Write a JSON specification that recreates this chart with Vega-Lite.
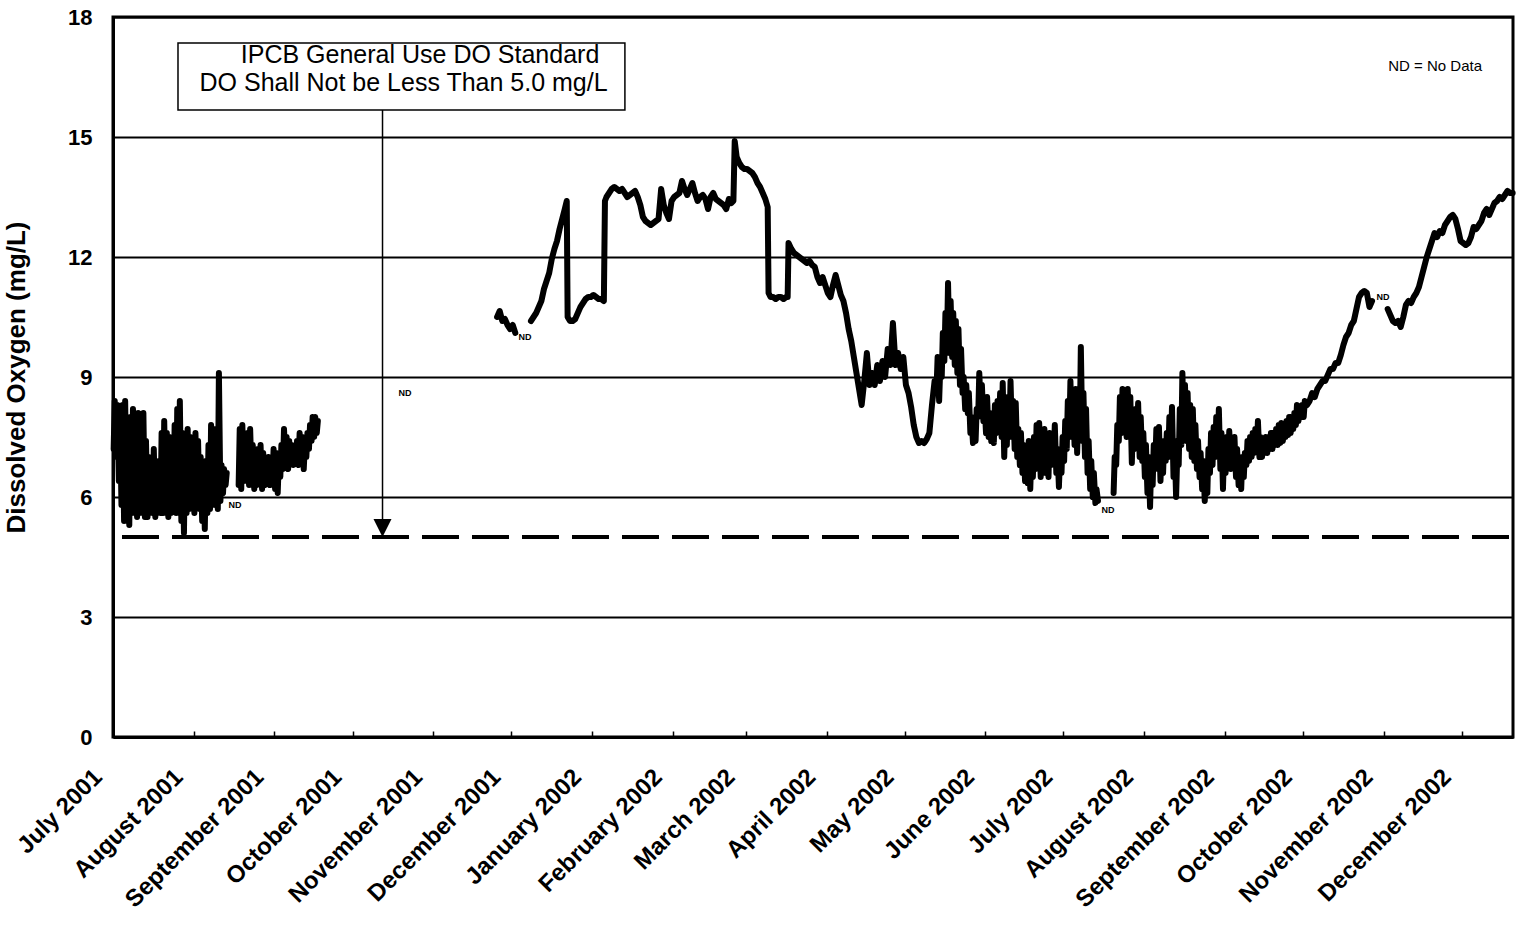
{
"$schema":"https://vega.github.io/schema/vega-lite/v6.json",
"width":1400,"height":720,
"autosize":{"type":"none"},
"padding":{"left":113,"top":17,"right":6,"bottom":195},
"background":"white",
"config":{"view":{"stroke":"black","strokeWidth":3},"font":"Liberation Sans"},
"datasets":{
"do":[
{"t":"2001-07-01T06:00","v":7.2,"s":1},{"t":"2001-07-01T16:00","v":8.4,"s":1},
{"t":"2001-07-02T06:00","v":7.0,"s":1},{"t":"2001-07-02T16:00","v":8.3,"s":1},
{"t":"2001-07-03T06:00","v":6.4,"s":1},{"t":"2001-07-03T16:00","v":8.2,"s":1},
{"t":"2001-07-04T06:00","v":5.8,"s":1},{"t":"2001-07-04T16:00","v":8.3,"s":1},
{"t":"2001-07-05T06:00","v":5.4,"s":1},{"t":"2001-07-05T16:00","v":8.4,"s":1},
{"t":"2001-07-06T06:00","v":5.7,"s":1},{"t":"2001-07-06T16:00","v":7.6,"s":1},
{"t":"2001-07-07T06:00","v":5.3,"s":1},{"t":"2001-07-07T16:00","v":8.0,"s":1},
{"t":"2001-07-08T06:00","v":5.6,"s":1},{"t":"2001-07-08T16:00","v":8.2,"s":1},
{"t":"2001-07-09T06:00","v":5.9,"s":1},{"t":"2001-07-09T16:00","v":7.8,"s":1},
{"t":"2001-07-10T06:00","v":5.5,"s":1},{"t":"2001-07-10T16:00","v":8.1,"s":1},
{"t":"2001-07-11T06:00","v":5.6,"s":1},{"t":"2001-07-11T16:00","v":7.9,"s":1},
{"t":"2001-07-12T06:00","v":5.7,"s":1},{"t":"2001-07-12T16:00","v":8.1,"s":1},
{"t":"2001-07-13T06:00","v":5.5,"s":1},{"t":"2001-07-13T16:00","v":7.4,"s":1},
{"t":"2001-07-14T06:00","v":5.5,"s":1},{"t":"2001-07-14T16:00","v":7.0,"s":1},
{"t":"2001-07-15T06:00","v":5.7,"s":1},{"t":"2001-07-15T16:00","v":6.8,"s":1},
{"t":"2001-07-16T06:00","v":5.6,"s":1},{"t":"2001-07-16T16:00","v":7.2,"s":1},
{"t":"2001-07-17T06:00","v":5.5,"s":1},{"t":"2001-07-17T16:00","v":6.6,"s":1},
{"t":"2001-07-18T06:00","v":5.7,"s":1},{"t":"2001-07-18T16:00","v":6.9,"s":1},
{"t":"2001-07-19T06:00","v":5.6,"s":1},{"t":"2001-07-19T16:00","v":7.6,"s":1},
{"t":"2001-07-20T06:00","v":5.6,"s":1},{"t":"2001-07-20T16:00","v":7.9,"s":1},
{"t":"2001-07-21T06:00","v":5.7,"s":1},{"t":"2001-07-21T16:00","v":7.6,"s":1},
{"t":"2001-07-22T06:00","v":5.5,"s":1},{"t":"2001-07-22T16:00","v":7.5,"s":1},
{"t":"2001-07-23T06:00","v":5.6,"s":1},{"t":"2001-07-23T16:00","v":7.3,"s":1},
{"t":"2001-07-24T06:00","v":5.7,"s":1},{"t":"2001-07-24T16:00","v":7.8,"s":1},
{"t":"2001-07-25T06:00","v":5.6,"s":1},{"t":"2001-07-25T16:00","v":8.2,"s":1},
{"t":"2001-07-26T06:00","v":5.8,"s":1},{"t":"2001-07-26T16:00","v":8.4,"s":1},
{"t":"2001-07-27T06:00","v":5.4,"s":1},{"t":"2001-07-27T16:00","v":7.6,"s":1},
{"t":"2001-07-28T06:00","v":5.1,"s":1},{"t":"2001-07-28T16:00","v":7.3,"s":1},
{"t":"2001-07-29T06:00","v":5.6,"s":1},{"t":"2001-07-29T16:00","v":7.7,"s":1},
{"t":"2001-07-30T06:00","v":5.7,"s":1},{"t":"2001-07-30T16:00","v":7.5,"s":1},
{"t":"2001-07-31T06:00","v":5.8,"s":1},{"t":"2001-07-31T16:00","v":7.0,"s":1},
{"t":"2001-08-01T06:00","v":5.6,"s":1},{"t":"2001-08-01T16:00","v":7.6,"s":1},
{"t":"2001-08-02T06:00","v":5.9,"s":1},{"t":"2001-08-02T16:00","v":7.4,"s":1},
{"t":"2001-08-03T06:00","v":5.7,"s":1},{"t":"2001-08-03T16:00","v":7.0,"s":1},
{"t":"2001-08-04T06:00","v":5.4,"s":1},{"t":"2001-08-04T16:00","v":6.8,"s":1},
{"t":"2001-08-05T06:00","v":5.2,"s":1},{"t":"2001-08-05T16:00","v":6.9,"s":1},
{"t":"2001-08-06T06:00","v":5.6,"s":1},{"t":"2001-08-06T16:00","v":7.3,"s":1},
{"t":"2001-08-07T06:00","v":5.7,"s":1},{"t":"2001-08-07T16:00","v":7.8,"s":1},
{"t":"2001-08-08T06:00","v":6.1,"s":1},{"t":"2001-08-08T16:00","v":7.7,"s":1},
{"t":"2001-08-09T06:00","v":5.8,"s":1},{"t":"2001-08-09T16:00","v":7.6,"s":1},
{"t":"2001-08-10T06:00","v":5.7,"s":1},{"t":"2001-08-10T16:00","v":9.1,"s":1},
{"t":"2001-08-11T06:00","v":5.9,"s":1},{"t":"2001-08-11T16:00","v":6.8,"s":1},
{"t":"2001-08-12T06:00","v":6.1,"s":1},{"t":"2001-08-12T16:00","v":6.7,"s":1},
{"t":"2001-08-13T06:00","v":6.3,"s":1},{"t":"2001-08-13T16:00","v":6.6,"s":1},
{"t":"2001-08-18T06:00","v":6.3,"s":2},{"t":"2001-08-18T16:00","v":7.7,"s":2},
{"t":"2001-08-19T06:00","v":6.2,"s":2},{"t":"2001-08-19T16:00","v":7.8,"s":2},
{"t":"2001-08-20T06:00","v":6.4,"s":2},{"t":"2001-08-20T16:00","v":7.1,"s":2},
{"t":"2001-08-21T06:00","v":6.5,"s":2},{"t":"2001-08-21T16:00","v":7.6,"s":2},
{"t":"2001-08-22T06:00","v":6.3,"s":2},{"t":"2001-08-22T16:00","v":7.7,"s":2},
{"t":"2001-08-23T06:00","v":6.4,"s":2},{"t":"2001-08-23T16:00","v":7.3,"s":2},
{"t":"2001-08-24T06:00","v":6.2,"s":2},{"t":"2001-08-24T16:00","v":7.0,"s":2},
{"t":"2001-08-25T06:00","v":6.3,"s":2},{"t":"2001-08-25T16:00","v":7.2,"s":2},
{"t":"2001-08-26T06:00","v":6.4,"s":2},{"t":"2001-08-26T16:00","v":7.3,"s":2},
{"t":"2001-08-27T06:00","v":6.2,"s":2},{"t":"2001-08-27T16:00","v":7.1,"s":2},
{"t":"2001-08-28T06:00","v":6.3,"s":2},{"t":"2001-08-28T16:00","v":6.9,"s":2},
{"t":"2001-08-29T06:00","v":6.5,"s":2},{"t":"2001-08-29T16:00","v":7.0,"s":2},
{"t":"2001-08-30T06:00","v":6.3,"s":2},{"t":"2001-08-30T16:00","v":6.9,"s":2},
{"t":"2001-08-31T06:00","v":6.4,"s":2},{"t":"2001-08-31T16:00","v":7.2,"s":2},
{"t":"2001-09-01T06:00","v":6.2,"s":2},{"t":"2001-09-01T16:00","v":7.1,"s":2},
{"t":"2001-09-02T06:00","v":6.1,"s":2},{"t":"2001-09-02T16:00","v":6.9,"s":2},
{"t":"2001-09-03T06:00","v":6.5,"s":2},{"t":"2001-09-03T16:00","v":7.3,"s":2},
{"t":"2001-09-04T06:00","v":6.7,"s":2},{"t":"2001-09-04T16:00","v":7.7,"s":2},
{"t":"2001-09-05T06:00","v":6.8,"s":2},{"t":"2001-09-05T16:00","v":7.5,"s":2},
{"t":"2001-09-06T06:00","v":6.7,"s":2},{"t":"2001-09-06T16:00","v":7.4,"s":2},
{"t":"2001-09-07T06:00","v":6.9,"s":2},{"t":"2001-09-07T16:00","v":7.3,"s":2},
{"t":"2001-09-08T06:00","v":6.8,"s":2},{"t":"2001-09-08T16:00","v":7.2,"s":2},
{"t":"2001-09-09T06:00","v":6.9,"s":2},{"t":"2001-09-09T16:00","v":7.4,"s":2},
{"t":"2001-09-10T06:00","v":6.8,"s":2},{"t":"2001-09-10T16:00","v":7.6,"s":2},
{"t":"2001-09-11T06:00","v":6.9,"s":2},{"t":"2001-09-11T16:00","v":7.5,"s":2},
{"t":"2001-09-12T06:00","v":6.7,"s":2},{"t":"2001-09-12T16:00","v":7.3,"s":2},
{"t":"2001-09-13T06:00","v":7.0,"s":2},{"t":"2001-09-13T16:00","v":7.6,"s":2},
{"t":"2001-09-14T06:00","v":7.2,"s":2},{"t":"2001-09-14T16:00","v":7.8,"s":2},
{"t":"2001-09-15T06:00","v":7.4,"s":2},{"t":"2001-09-15T16:00","v":8.0,"s":2},
{"t":"2001-09-16T06:00","v":7.5,"s":2},{"t":"2001-09-16T16:00","v":8.0,"s":2},
{"t":"2001-09-17T06:00","v":7.6,"s":2},{"t":"2001-09-17T16:00","v":7.9,"s":2},
{"t":"2001-11-25T12:00","v":10.5,"s":3},{"t":"2001-11-26T12:00","v":10.65,"s":3},
{"t":"2001-11-27T12:00","v":10.4,"s":3},{"t":"2001-11-28T12:00","v":10.45,"s":3},
{"t":"2001-11-29T12:00","v":10.3,"s":3},{"t":"2001-11-30T12:00","v":10.2,"s":3},
{"t":"2001-12-01T12:00","v":10.3,"s":3},{"t":"2001-12-02T12:00","v":10.1,"s":3},
{"t":"2001-12-08T12:00","v":10.4,"s":4},{"t":"2001-12-09T12:00","v":10.5,"s":4},
{"t":"2001-12-10T12:00","v":10.6,"s":4},{"t":"2001-12-11T12:00","v":10.75,"s":4},
{"t":"2001-12-12T12:00","v":10.9,"s":4},{"t":"2001-12-13T12:00","v":11.2,"s":4},
{"t":"2001-12-14T12:00","v":11.4,"s":4},{"t":"2001-12-15T12:00","v":11.6,"s":4},
{"t":"2001-12-16T12:00","v":11.95,"s":4},{"t":"2001-12-17T12:00","v":12.2,"s":4},
{"t":"2001-12-18T12:00","v":12.4,"s":4},{"t":"2001-12-19T12:00","v":12.7,"s":4},
{"t":"2001-12-20T12:00","v":12.95,"s":4},{"t":"2001-12-21T12:00","v":13.2,"s":4},
{"t":"2001-12-22T06:00","v":13.4,"s":4},{"t":"2001-12-22T14:00","v":10.5,"s":4},
{"t":"2001-12-23T12:00","v":10.4,"s":4},{"t":"2001-12-24T12:00","v":10.4,"s":4},
{"t":"2001-12-25T12:00","v":10.45,"s":4},{"t":"2001-12-26T12:00","v":10.6,"s":4},
{"t":"2001-12-27T12:00","v":10.75,"s":4},{"t":"2001-12-28T12:00","v":10.85,"s":4},
{"t":"2001-12-29T12:00","v":10.95,"s":4},{"t":"2001-12-30T12:00","v":11.0,"s":4},
{"t":"2001-12-31T12:00","v":11.0,"s":4},{"t":"2002-01-01T12:00","v":11.05,"s":4},
{"t":"2002-01-02T12:00","v":11.0,"s":4},{"t":"2002-01-03T12:00","v":10.95,"s":4},
{"t":"2002-01-04T12:00","v":10.95,"s":4},{"t":"2002-01-05T12:00","v":10.9,"s":4},
{"t":"2002-01-05T22:00","v":13.4,"s":4},{"t":"2002-01-06T12:00","v":13.5,"s":4},
{"t":"2002-01-07T12:00","v":13.6,"s":4},{"t":"2002-01-08T12:00","v":13.7,"s":4},
{"t":"2002-01-09T12:00","v":13.75,"s":4},{"t":"2002-01-10T12:00","v":13.7,"s":4},
{"t":"2002-01-11T12:00","v":13.65,"s":4},{"t":"2002-01-12T12:00","v":13.7,"s":4},
{"t":"2002-01-13T12:00","v":13.6,"s":4},{"t":"2002-01-14T12:00","v":13.5,"s":4},
{"t":"2002-01-15T12:00","v":13.55,"s":4},{"t":"2002-01-16T12:00","v":13.6,"s":4},
{"t":"2002-01-17T12:00","v":13.65,"s":4},{"t":"2002-01-18T12:00","v":13.5,"s":4},
{"t":"2002-01-19T12:00","v":13.3,"s":4},{"t":"2002-01-20T12:00","v":13.0,"s":4},
{"t":"2002-01-21T12:00","v":12.9,"s":4},{"t":"2002-01-22T12:00","v":12.85,"s":4},
{"t":"2002-01-23T12:00","v":12.8,"s":4},{"t":"2002-01-24T12:00","v":12.85,"s":4},
{"t":"2002-01-25T12:00","v":12.9,"s":4},{"t":"2002-01-26T12:00","v":12.95,"s":4},
{"t":"2002-01-27T12:00","v":13.7,"s":4},{"t":"2002-01-28T12:00","v":13.3,"s":4},
{"t":"2002-01-29T12:00","v":13.1,"s":4},{"t":"2002-01-30T12:00","v":12.95,"s":4},
{"t":"2002-01-31T12:00","v":13.4,"s":4},{"t":"2002-02-01T12:00","v":13.5,"s":4},
{"t":"2002-02-02T12:00","v":13.55,"s":4},{"t":"2002-02-03T12:00","v":13.6,"s":4},
{"t":"2002-02-04T12:00","v":13.9,"s":4},{"t":"2002-02-05T12:00","v":13.7,"s":4},
{"t":"2002-02-06T12:00","v":13.55,"s":4},{"t":"2002-02-07T12:00","v":13.7,"s":4},
{"t":"2002-02-08T12:00","v":13.85,"s":4},{"t":"2002-02-09T12:00","v":13.6,"s":4},
{"t":"2002-02-10T12:00","v":13.4,"s":4},{"t":"2002-02-11T12:00","v":13.5,"s":4},
{"t":"2002-02-12T12:00","v":13.55,"s":4},{"t":"2002-02-13T12:00","v":13.45,"s":4},
{"t":"2002-02-14T12:00","v":13.2,"s":4},{"t":"2002-02-15T12:00","v":13.5,"s":4},
{"t":"2002-02-16T12:00","v":13.6,"s":4},{"t":"2002-02-17T12:00","v":13.45,"s":4},
{"t":"2002-02-18T12:00","v":13.4,"s":4},{"t":"2002-02-19T12:00","v":13.35,"s":4},
{"t":"2002-02-20T12:00","v":13.3,"s":4},{"t":"2002-02-21T12:00","v":13.2,"s":4},
{"t":"2002-02-22T12:00","v":13.45,"s":4},{"t":"2002-02-23T12:00","v":13.35,"s":4},
{"t":"2002-02-24T06:00","v":13.4,"s":4},{"t":"2002-02-24T18:00","v":14.9,"s":4},
{"t":"2002-02-25T12:00","v":14.5,"s":4},{"t":"2002-02-26T12:00","v":14.35,"s":4},
{"t":"2002-02-27T12:00","v":14.25,"s":4},{"t":"2002-02-28T12:00","v":14.2,"s":4},
{"t":"2002-03-01T12:00","v":14.2,"s":4},{"t":"2002-03-02T12:00","v":14.15,"s":4},
{"t":"2002-03-03T12:00","v":14.1,"s":4},{"t":"2002-03-04T12:00","v":14.0,"s":4},
{"t":"2002-03-05T12:00","v":13.85,"s":4},{"t":"2002-03-06T12:00","v":13.75,"s":4},
{"t":"2002-03-07T12:00","v":13.6,"s":4},{"t":"2002-03-08T12:00","v":13.45,"s":4},
{"t":"2002-03-09T10:00","v":13.25,"s":4},{"t":"2002-03-09T18:00","v":11.1,"s":4},
{"t":"2002-03-10T12:00","v":11.0,"s":4},{"t":"2002-03-11T12:00","v":11.0,"s":4},
{"t":"2002-03-12T12:00","v":10.95,"s":4},{"t":"2002-03-13T12:00","v":11.0,"s":4},
{"t":"2002-03-14T12:00","v":11.0,"s":4},{"t":"2002-03-15T12:00","v":10.95,"s":4},
{"t":"2002-03-16T12:00","v":11.0,"s":4},{"t":"2002-03-17T02:00","v":11.0,"s":4},
{"t":"2002-03-17T10:00","v":12.35,"s":4},{"t":"2002-03-18T12:00","v":12.2,"s":4},
{"t":"2002-03-19T12:00","v":12.1,"s":4},{"t":"2002-03-20T12:00","v":12.05,"s":4},
{"t":"2002-03-21T12:00","v":12.0,"s":4},{"t":"2002-03-22T12:00","v":11.95,"s":4},
{"t":"2002-03-23T12:00","v":11.9,"s":4},{"t":"2002-03-24T12:00","v":11.85,"s":4},
{"t":"2002-03-25T12:00","v":11.9,"s":4},{"t":"2002-03-26T12:00","v":11.8,"s":4},
{"t":"2002-03-27T12:00","v":11.75,"s":4},{"t":"2002-03-28T12:00","v":11.5,"s":4},
{"t":"2002-03-29T12:00","v":11.35,"s":4},{"t":"2002-03-30T12:00","v":11.5,"s":4},
{"t":"2002-03-31T12:00","v":11.3,"s":4},{"t":"2002-04-01T12:00","v":11.1,"s":4},
{"t":"2002-04-02T12:00","v":11.0,"s":4},{"t":"2002-04-03T12:00","v":11.3,"s":4},
{"t":"2002-04-04T12:00","v":11.55,"s":4},{"t":"2002-04-05T12:00","v":11.3,"s":4},
{"t":"2002-04-06T12:00","v":11.05,"s":4},{"t":"2002-04-07T12:00","v":10.9,"s":4},
{"t":"2002-04-08T12:00","v":10.6,"s":4},{"t":"2002-04-09T12:00","v":10.2,"s":4},
{"t":"2002-04-10T12:00","v":9.9,"s":4},{"t":"2002-04-11T12:00","v":9.5,"s":4},
{"t":"2002-04-12T12:00","v":9.1,"s":4},{"t":"2002-04-13T12:00","v":8.7,"s":4},
{"t":"2002-04-14T12:00","v":8.3,"s":4},{"t":"2002-04-15T12:00","v":8.9,"s":4},
{"t":"2002-04-16T12:00","v":9.6,"s":4},{"t":"2002-04-17T12:00","v":8.8,"s":4},
{"t":"2002-04-18T12:00","v":9.1,"s":4},{"t":"2002-04-19T12:00","v":8.8,"s":4},
{"t":"2002-04-20T12:00","v":9.3,"s":4},{"t":"2002-04-21T12:00","v":8.9,"s":4},
{"t":"2002-04-22T12:00","v":9.4,"s":4},{"t":"2002-04-23T12:00","v":9.0,"s":4},
{"t":"2002-04-24T12:00","v":9.7,"s":4},{"t":"2002-04-25T12:00","v":9.3,"s":4},
{"t":"2002-04-26T12:00","v":10.35,"s":4},{"t":"2002-04-27T12:00","v":9.3,"s":4},
{"t":"2002-04-28T12:00","v":9.6,"s":4},{"t":"2002-04-29T12:00","v":9.2,"s":4},
{"t":"2002-04-30T12:00","v":9.5,"s":4},{"t":"2002-05-01T12:00","v":8.8,"s":4},
{"t":"2002-05-02T12:00","v":8.6,"s":4},{"t":"2002-05-03T12:00","v":8.25,"s":4},
{"t":"2002-05-04T12:00","v":7.8,"s":4},{"t":"2002-05-05T12:00","v":7.5,"s":4},
{"t":"2002-05-06T12:00","v":7.35,"s":4},{"t":"2002-05-07T12:00","v":7.4,"s":4},
{"t":"2002-05-08T12:00","v":7.35,"s":4},{"t":"2002-05-09T12:00","v":7.45,"s":4},
{"t":"2002-05-10T12:00","v":7.6,"s":4},{"t":"2002-05-11T12:00","v":8.3,"s":4},
{"t":"2002-05-12T12:00","v":8.9,"s":4},
{"t":"2002-05-13T06:00","v":8.7,"s":4},{"t":"2002-05-13T16:00","v":9.5,"s":4},
{"t":"2002-05-14T06:00","v":8.4,"s":4},{"t":"2002-05-14T16:00","v":9.2,"s":4},
{"t":"2002-05-15T06:00","v":9.0,"s":4},{"t":"2002-05-15T16:00","v":10.1,"s":4},
{"t":"2002-05-16T06:00","v":9.4,"s":4},{"t":"2002-05-16T16:00","v":10.6,"s":4},
{"t":"2002-05-17T06:00","v":9.8,"s":4},{"t":"2002-05-17T16:00","v":11.35,"s":4},
{"t":"2002-05-18T06:00","v":9.6,"s":4},{"t":"2002-05-18T16:00","v":10.9,"s":4},
{"t":"2002-05-19T06:00","v":9.5,"s":4},{"t":"2002-05-19T16:00","v":10.6,"s":4},
{"t":"2002-05-20T06:00","v":9.3,"s":4},{"t":"2002-05-20T16:00","v":10.4,"s":4},
{"t":"2002-05-21T06:00","v":9.1,"s":4},{"t":"2002-05-21T16:00","v":10.2,"s":4},
{"t":"2002-05-22T06:00","v":8.8,"s":4},{"t":"2002-05-22T16:00","v":9.7,"s":4},
{"t":"2002-05-23T06:00","v":8.6,"s":4},{"t":"2002-05-23T16:00","v":9.0,"s":4},
{"t":"2002-05-24T06:00","v":8.2,"s":4},{"t":"2002-05-24T16:00","v":8.8,"s":4},
{"t":"2002-05-25T06:00","v":8.1,"s":4},{"t":"2002-05-25T16:00","v":8.6,"s":4},
{"t":"2002-05-26T06:00","v":7.6,"s":4},{"t":"2002-05-26T16:00","v":8.0,"s":4},
{"t":"2002-05-27T06:00","v":7.35,"s":4},{"t":"2002-05-27T16:00","v":7.6,"s":4},
{"t":"2002-05-28T06:00","v":7.4,"s":4},{"t":"2002-05-28T16:00","v":8.2,"s":4},
{"t":"2002-05-29T06:00","v":8.0,"s":4},{"t":"2002-05-29T16:00","v":9.1,"s":4},
{"t":"2002-05-30T06:00","v":8.2,"s":4},{"t":"2002-05-30T16:00","v":8.8,"s":4},
{"t":"2002-05-31T06:00","v":7.9,"s":4},{"t":"2002-05-31T16:00","v":8.4,"s":4},
{"t":"2002-06-01T06:00","v":7.6,"s":4},{"t":"2002-06-01T16:00","v":8.5,"s":4},
{"t":"2002-06-02T06:00","v":7.5,"s":4},{"t":"2002-06-02T16:00","v":8.1,"s":4},
{"t":"2002-06-03T06:00","v":7.4,"s":4},{"t":"2002-06-03T16:00","v":8.0,"s":4},
{"t":"2002-06-04T06:00","v":7.35,"s":4},{"t":"2002-06-04T16:00","v":8.3,"s":4},
{"t":"2002-06-05T06:00","v":7.6,"s":4},{"t":"2002-06-05T16:00","v":8.4,"s":4},
{"t":"2002-06-06T06:00","v":7.7,"s":4},{"t":"2002-06-06T16:00","v":8.6,"s":4},
{"t":"2002-06-07T06:00","v":7.5,"s":4},{"t":"2002-06-07T16:00","v":8.85,"s":4},
{"t":"2002-06-08T06:00","v":7.0,"s":4},{"t":"2002-06-08T16:00","v":8.0,"s":4},
{"t":"2002-06-09T06:00","v":7.3,"s":4},{"t":"2002-06-09T16:00","v":8.5,"s":4},
{"t":"2002-06-10T06:00","v":7.6,"s":4},{"t":"2002-06-10T16:00","v":8.9,"s":4},
{"t":"2002-06-11T06:00","v":7.5,"s":4},{"t":"2002-06-11T16:00","v":8.4,"s":4},
{"t":"2002-06-12T06:00","v":7.2,"s":4},{"t":"2002-06-12T16:00","v":8.35,"s":4},
{"t":"2002-06-13T06:00","v":7.0,"s":4},{"t":"2002-06-13T16:00","v":7.7,"s":4},
{"t":"2002-06-14T06:00","v":6.8,"s":4},{"t":"2002-06-14T16:00","v":7.6,"s":4},
{"t":"2002-06-15T06:00","v":6.6,"s":4},{"t":"2002-06-15T16:00","v":7.3,"s":4},
{"t":"2002-06-16T06:00","v":6.4,"s":4},{"t":"2002-06-16T16:00","v":7.2,"s":4},
{"t":"2002-06-17T06:00","v":6.35,"s":4},{"t":"2002-06-17T16:00","v":7.4,"s":4},
{"t":"2002-06-18T06:00","v":6.2,"s":4},{"t":"2002-06-18T16:00","v":7.1,"s":4},
{"t":"2002-06-19T06:00","v":6.5,"s":4},{"t":"2002-06-19T16:00","v":7.5,"s":4},
{"t":"2002-06-20T06:00","v":6.7,"s":4},{"t":"2002-06-20T16:00","v":7.8,"s":4},
{"t":"2002-06-21T06:00","v":6.9,"s":4},{"t":"2002-06-21T16:00","v":7.85,"s":4},
{"t":"2002-06-22T06:00","v":6.5,"s":4},{"t":"2002-06-22T16:00","v":7.3,"s":4},
{"t":"2002-06-23T06:00","v":6.7,"s":4},{"t":"2002-06-23T16:00","v":7.7,"s":4},
{"t":"2002-06-24T06:00","v":6.6,"s":4},{"t":"2002-06-24T16:00","v":7.5,"s":4},
{"t":"2002-06-25T06:00","v":6.5,"s":4},{"t":"2002-06-25T16:00","v":7.6,"s":4},
{"t":"2002-06-26T06:00","v":6.8,"s":4},{"t":"2002-06-26T16:00","v":7.5,"s":4},
{"t":"2002-06-27T06:00","v":6.9,"s":4},{"t":"2002-06-27T16:00","v":7.8,"s":4},
{"t":"2002-06-28T06:00","v":6.6,"s":4},{"t":"2002-06-28T16:00","v":7.2,"s":4},
{"t":"2002-06-29T06:00","v":6.25,"s":4},{"t":"2002-06-29T16:00","v":7.0,"s":4},
{"t":"2002-06-30T06:00","v":6.6,"s":4},{"t":"2002-06-30T16:00","v":7.5,"s":4},
{"t":"2002-07-01T06:00","v":6.9,"s":4},{"t":"2002-07-01T16:00","v":7.9,"s":4},
{"t":"2002-07-02T06:00","v":7.2,"s":4},{"t":"2002-07-02T16:00","v":8.4,"s":4},
{"t":"2002-07-03T06:00","v":7.6,"s":4},{"t":"2002-07-03T16:00","v":8.9,"s":4},
{"t":"2002-07-04T06:00","v":7.5,"s":4},{"t":"2002-07-04T16:00","v":8.6,"s":4},
{"t":"2002-07-05T06:00","v":7.3,"s":4},{"t":"2002-07-05T16:00","v":8.7,"s":4},
{"t":"2002-07-06T06:00","v":7.1,"s":4},{"t":"2002-07-06T16:00","v":8.2,"s":4},
{"t":"2002-07-07T06:00","v":7.6,"s":4},{"t":"2002-07-07T16:00","v":9.75,"s":4},
{"t":"2002-07-08T06:00","v":7.4,"s":4},{"t":"2002-07-08T16:00","v":8.6,"s":4},
{"t":"2002-07-09T06:00","v":7.0,"s":4},{"t":"2002-07-09T16:00","v":8.2,"s":4},
{"t":"2002-07-10T06:00","v":6.6,"s":4},{"t":"2002-07-10T16:00","v":7.4,"s":4},
{"t":"2002-07-11T06:00","v":6.2,"s":4},{"t":"2002-07-11T16:00","v":6.9,"s":4},
{"t":"2002-07-12T06:00","v":6.0,"s":4},{"t":"2002-07-12T16:00","v":6.6,"s":4},
{"t":"2002-07-13T06:00","v":5.85,"s":4},{"t":"2002-07-13T16:00","v":6.2,"s":4},
{"t":"2002-07-14T06:00","v":5.9,"s":4},
{"t":"2002-07-20T06:00","v":6.1,"s":5},{"t":"2002-07-20T16:00","v":7.0,"s":5},
{"t":"2002-07-21T06:00","v":6.8,"s":5},{"t":"2002-07-21T16:00","v":7.8,"s":5},
{"t":"2002-07-22T06:00","v":7.4,"s":5},{"t":"2002-07-22T16:00","v":8.5,"s":5},
{"t":"2002-07-23T06:00","v":7.6,"s":5},{"t":"2002-07-23T16:00","v":8.7,"s":5},
{"t":"2002-07-24T06:00","v":7.8,"s":5},{"t":"2002-07-24T16:00","v":8.6,"s":5},
{"t":"2002-07-25T06:00","v":7.5,"s":5},{"t":"2002-07-25T16:00","v":8.7,"s":5},
{"t":"2002-07-26T06:00","v":7.6,"s":5},{"t":"2002-07-26T16:00","v":8.5,"s":5},
{"t":"2002-07-27T06:00","v":6.85,"s":5},{"t":"2002-07-27T16:00","v":7.9,"s":5},
{"t":"2002-07-28T06:00","v":7.2,"s":5},{"t":"2002-07-28T16:00","v":8.2,"s":5},
{"t":"2002-07-29T06:00","v":7.4,"s":5},{"t":"2002-07-29T16:00","v":8.35,"s":5},
{"t":"2002-07-30T06:00","v":7.0,"s":5},{"t":"2002-07-30T16:00","v":8.0,"s":5},
{"t":"2002-07-31T06:00","v":6.9,"s":5},{"t":"2002-07-31T16:00","v":7.6,"s":5},
{"t":"2002-08-01T06:00","v":6.5,"s":5},{"t":"2002-08-01T16:00","v":7.3,"s":5},
{"t":"2002-08-02T06:00","v":6.1,"s":5},{"t":"2002-08-02T16:00","v":7.0,"s":5},
{"t":"2002-08-03T06:00","v":5.75,"s":5},{"t":"2002-08-03T16:00","v":6.8,"s":5},
{"t":"2002-08-04T06:00","v":6.3,"s":5},{"t":"2002-08-04T16:00","v":7.3,"s":5},
{"t":"2002-08-05T06:00","v":6.8,"s":5},{"t":"2002-08-05T16:00","v":7.7,"s":5},
{"t":"2002-08-06T06:00","v":6.7,"s":5},{"t":"2002-08-06T16:00","v":7.75,"s":5},
{"t":"2002-08-07T06:00","v":6.4,"s":5},{"t":"2002-08-07T16:00","v":7.1,"s":5},
{"t":"2002-08-08T06:00","v":6.6,"s":5},{"t":"2002-08-08T16:00","v":7.4,"s":5},
{"t":"2002-08-09T06:00","v":6.9,"s":5},{"t":"2002-08-09T16:00","v":7.6,"s":5},
{"t":"2002-08-10T06:00","v":7.0,"s":5},{"t":"2002-08-10T16:00","v":8.0,"s":5},
{"t":"2002-08-11T06:00","v":7.1,"s":5},{"t":"2002-08-11T16:00","v":8.25,"s":5},
{"t":"2002-08-12T06:00","v":6.5,"s":5},{"t":"2002-08-12T16:00","v":7.4,"s":5},
{"t":"2002-08-13T06:00","v":6.0,"s":5},{"t":"2002-08-13T16:00","v":7.0,"s":5},
{"t":"2002-08-14T06:00","v":6.8,"s":5},{"t":"2002-08-14T16:00","v":8.2,"s":5},
{"t":"2002-08-15T06:00","v":7.3,"s":5},{"t":"2002-08-15T16:00","v":9.1,"s":5},
{"t":"2002-08-16T06:00","v":7.6,"s":5},{"t":"2002-08-16T16:00","v":8.8,"s":5},
{"t":"2002-08-17T06:00","v":7.4,"s":5},{"t":"2002-08-17T16:00","v":8.6,"s":5},
{"t":"2002-08-18T06:00","v":7.2,"s":5},{"t":"2002-08-18T16:00","v":8.3,"s":5},
{"t":"2002-08-19T06:00","v":7.0,"s":5},{"t":"2002-08-19T16:00","v":8.2,"s":5},
{"t":"2002-08-20T06:00","v":6.9,"s":5},{"t":"2002-08-20T16:00","v":7.8,"s":5},
{"t":"2002-08-21T06:00","v":6.7,"s":5},{"t":"2002-08-21T16:00","v":7.4,"s":5},
{"t":"2002-08-22T06:00","v":6.5,"s":5},{"t":"2002-08-22T16:00","v":7.1,"s":5},
{"t":"2002-08-23T06:00","v":6.2,"s":5},{"t":"2002-08-23T16:00","v":6.9,"s":5},
{"t":"2002-08-24T06:00","v":5.9,"s":5},{"t":"2002-08-24T16:00","v":6.6,"s":5},
{"t":"2002-08-25T06:00","v":6.1,"s":5},{"t":"2002-08-25T16:00","v":7.2,"s":5},
{"t":"2002-08-26T06:00","v":6.6,"s":5},{"t":"2002-08-26T16:00","v":7.6,"s":5},
{"t":"2002-08-27T06:00","v":6.8,"s":5},{"t":"2002-08-27T16:00","v":7.75,"s":5},
{"t":"2002-08-28T06:00","v":7.0,"s":5},{"t":"2002-08-28T16:00","v":8.0,"s":5},
{"t":"2002-08-29T06:00","v":7.2,"s":5},{"t":"2002-08-29T16:00","v":8.2,"s":5},
{"t":"2002-08-30T06:00","v":6.7,"s":5},{"t":"2002-08-30T16:00","v":7.6,"s":5},
{"t":"2002-08-31T06:00","v":6.2,"s":5},{"t":"2002-08-31T16:00","v":7.2,"s":5},
{"t":"2002-09-01T06:00","v":6.6,"s":5},{"t":"2002-09-01T16:00","v":7.5,"s":5},
{"t":"2002-09-02T06:00","v":6.9,"s":5},{"t":"2002-09-02T16:00","v":7.65,"s":5},
{"t":"2002-09-03T06:00","v":6.7,"s":5},{"t":"2002-09-03T16:00","v":7.4,"s":5},
{"t":"2002-09-04T06:00","v":6.8,"s":5},{"t":"2002-09-04T16:00","v":7.5,"s":5},
{"t":"2002-09-05T06:00","v":6.5,"s":5},{"t":"2002-09-05T16:00","v":7.2,"s":5},
{"t":"2002-09-06T06:00","v":6.3,"s":5},{"t":"2002-09-06T16:00","v":6.9,"s":5},
{"t":"2002-09-07T06:00","v":6.2,"s":5},{"t":"2002-09-07T16:00","v":7.0,"s":5},
{"t":"2002-09-08T06:00","v":6.5,"s":5},{"t":"2002-09-08T16:00","v":7.1,"s":5},
{"t":"2002-09-09T06:00","v":6.8,"s":5},{"t":"2002-09-09T16:00","v":7.4,"s":5},
{"t":"2002-09-10T06:00","v":6.9,"s":5},{"t":"2002-09-10T16:00","v":7.5,"s":5},
{"t":"2002-09-11T06:00","v":7.0,"s":5},{"t":"2002-09-11T16:00","v":7.6,"s":5},
{"t":"2002-09-12T06:00","v":7.1,"s":5},{"t":"2002-09-12T16:00","v":7.7,"s":5},
{"t":"2002-09-13T06:00","v":7.2,"s":5},{"t":"2002-09-13T16:00","v":7.9,"s":5},
{"t":"2002-09-14T06:00","v":7.0,"s":5},{"t":"2002-09-14T16:00","v":7.5,"s":5},
{"t":"2002-09-15T06:00","v":7.0,"s":5},{"t":"2002-09-15T16:00","v":7.45,"s":5},
{"t":"2002-09-16T06:00","v":7.1,"s":5},{"t":"2002-09-16T16:00","v":7.5,"s":5},
{"t":"2002-09-17T06:00","v":7.1,"s":5},{"t":"2002-09-17T16:00","v":7.5,"s":5},
{"t":"2002-09-18T06:00","v":7.2,"s":5},{"t":"2002-09-18T16:00","v":7.6,"s":5},
{"t":"2002-09-19T06:00","v":7.2,"s":5},{"t":"2002-09-19T16:00","v":7.6,"s":5},
{"t":"2002-09-20T06:00","v":7.3,"s":5},{"t":"2002-09-20T16:00","v":7.7,"s":5},
{"t":"2002-09-21T06:00","v":7.3,"s":5},{"t":"2002-09-21T16:00","v":7.8,"s":5},
{"t":"2002-09-22T06:00","v":7.35,"s":5},{"t":"2002-09-22T16:00","v":7.85,"s":5},
{"t":"2002-09-23T06:00","v":7.4,"s":5},{"t":"2002-09-23T16:00","v":7.8,"s":5},
{"t":"2002-09-24T06:00","v":7.5,"s":5},{"t":"2002-09-24T16:00","v":7.9,"s":5},
{"t":"2002-09-25T06:00","v":7.55,"s":5},{"t":"2002-09-25T16:00","v":8.0,"s":5},
{"t":"2002-09-26T06:00","v":7.6,"s":5},{"t":"2002-09-26T16:00","v":8.0,"s":5},
{"t":"2002-09-27T06:00","v":7.7,"s":5},{"t":"2002-09-27T16:00","v":8.1,"s":5},
{"t":"2002-09-28T06:00","v":7.8,"s":5},{"t":"2002-09-28T16:00","v":8.3,"s":5},
{"t":"2002-09-29T06:00","v":7.9,"s":5},{"t":"2002-09-29T16:00","v":8.2,"s":5},
{"t":"2002-09-30T06:00","v":8.0,"s":5},{"t":"2002-09-30T16:00","v":8.3,"s":5},
{"t":"2002-10-01T06:00","v":8.0,"s":5},{"t":"2002-10-01T16:00","v":8.4,"s":5},
{"t":"2002-10-02T12:00","v":8.3,"s":5},{"t":"2002-10-03T12:00","v":8.4,"s":5},
{"t":"2002-10-04T12:00","v":8.6,"s":5},{"t":"2002-10-05T12:00","v":8.5,"s":5},
{"t":"2002-10-06T12:00","v":8.7,"s":5},{"t":"2002-10-07T12:00","v":8.8,"s":5},
{"t":"2002-10-08T12:00","v":8.9,"s":5},{"t":"2002-10-09T12:00","v":8.9,"s":5},
{"t":"2002-10-10T12:00","v":9.05,"s":5},{"t":"2002-10-11T12:00","v":9.2,"s":5},
{"t":"2002-10-12T12:00","v":9.2,"s":5},{"t":"2002-10-13T12:00","v":9.35,"s":5},
{"t":"2002-10-14T12:00","v":9.35,"s":5},{"t":"2002-10-15T12:00","v":9.55,"s":5},
{"t":"2002-10-16T12:00","v":9.8,"s":5},{"t":"2002-10-17T12:00","v":10.0,"s":5},
{"t":"2002-10-18T12:00","v":10.1,"s":5},{"t":"2002-10-19T12:00","v":10.3,"s":5},
{"t":"2002-10-20T12:00","v":10.4,"s":5},{"t":"2002-10-21T12:00","v":10.7,"s":5},
{"t":"2002-10-22T12:00","v":11.0,"s":5},{"t":"2002-10-23T12:00","v":11.1,"s":5},
{"t":"2002-10-24T12:00","v":11.15,"s":5},{"t":"2002-10-25T12:00","v":11.1,"s":5},
{"t":"2002-10-26T12:00","v":10.75,"s":5},{"t":"2002-10-27T12:00","v":10.9,"s":5},
{"t":"2002-11-02T12:00","v":10.7,"s":6},{"t":"2002-11-03T12:00","v":10.55,"s":6},
{"t":"2002-11-04T12:00","v":10.4,"s":6},{"t":"2002-11-05T12:00","v":10.35,"s":6},
{"t":"2002-11-06T12:00","v":10.4,"s":6},{"t":"2002-11-07T12:00","v":10.25,"s":6},
{"t":"2002-11-08T12:00","v":10.5,"s":6},{"t":"2002-11-09T12:00","v":10.8,"s":6},
{"t":"2002-11-10T12:00","v":10.9,"s":6},{"t":"2002-11-11T12:00","v":10.85,"s":6},
{"t":"2002-11-12T12:00","v":11.0,"s":6},{"t":"2002-11-13T12:00","v":11.1,"s":6},
{"t":"2002-11-14T12:00","v":11.25,"s":6},{"t":"2002-11-15T12:00","v":11.5,"s":6},
{"t":"2002-11-16T12:00","v":11.75,"s":6},{"t":"2002-11-17T12:00","v":12.0,"s":6},
{"t":"2002-11-18T12:00","v":12.2,"s":6},{"t":"2002-11-19T12:00","v":12.4,"s":6},
{"t":"2002-11-20T12:00","v":12.6,"s":6},{"t":"2002-11-21T12:00","v":12.5,"s":6},
{"t":"2002-11-22T12:00","v":12.65,"s":6},{"t":"2002-11-23T12:00","v":12.6,"s":6},
{"t":"2002-11-24T12:00","v":12.8,"s":6},{"t":"2002-11-25T12:00","v":12.9,"s":6},
{"t":"2002-11-26T12:00","v":13.0,"s":6},{"t":"2002-11-27T12:00","v":13.05,"s":6},
{"t":"2002-11-28T12:00","v":12.95,"s":6},{"t":"2002-11-29T12:00","v":12.7,"s":6},
{"t":"2002-11-30T12:00","v":12.4,"s":6},{"t":"2002-12-01T12:00","v":12.35,"s":6},
{"t":"2002-12-02T12:00","v":12.3,"s":6},{"t":"2002-12-03T12:00","v":12.35,"s":6},
{"t":"2002-12-04T12:00","v":12.5,"s":6},{"t":"2002-12-05T12:00","v":12.75,"s":6},
{"t":"2002-12-06T12:00","v":12.7,"s":6},{"t":"2002-12-07T12:00","v":12.8,"s":6},
{"t":"2002-12-08T12:00","v":12.9,"s":6},{"t":"2002-12-09T12:00","v":13.1,"s":6},
{"t":"2002-12-10T12:00","v":13.2,"s":6},{"t":"2002-12-11T12:00","v":13.05,"s":6},
{"t":"2002-12-12T12:00","v":13.2,"s":6},{"t":"2002-12-13T12:00","v":13.35,"s":6},
{"t":"2002-12-14T12:00","v":13.4,"s":6},{"t":"2002-12-15T12:00","v":13.5,"s":6},
{"t":"2002-12-16T12:00","v":13.45,"s":6},{"t":"2002-12-17T12:00","v":13.55,"s":6},
{"t":"2002-12-18T12:00","v":13.65,"s":6},{"t":"2002-12-19T12:00","v":13.6,"s":6},
{"t":"2002-12-20T12:00","v":13.6,"s":6}
],
"nd":[
{"t":"2001-08-16T20:00","v":5.8},
{"t":"2001-10-21T03:00","v":8.6},
{"t":"2001-12-06T05:00","v":10.0},
{"t":"2002-07-18T03:00","v":5.68},
{"t":"2002-10-31T17:00","v":11.0}
]
},
"layer":[
{
"data":{"name":"do"},
"mark":{"type":"line","stroke":"black","strokeWidth":6,"strokeJoin":"round","strokeCap":"round"},
"encoding":{
"x":{"field":"t","type":"temporal",
"scale":{"domain":[{"year":2001,"month":7,"date":1},{"year":2002,"month":12,"date":20,"hours":15}]},
"axis":{"title":null,"format":"%B %Y","tickCount":{"interval":"month","step":1},
"labelAngle":-45,"labelAlign":"right","labelBaseline":"middle","labelFontSize":24,"labelFontWeight":"bold","labelColor":"black","labelFont":"Liberation Sans",
"labelPadding":42,"labelOffset":-15,"labelOverlap":false,"labelFlush":false,"labelBound":false,"labelLimit":0,
"tickColor":"black","tickSize":-6,"tickWidth":1.5,"domainColor":"black","domainWidth":3,"grid":false}},
"y":{"field":"v","type":"quantitative","scale":{"domain":[0,18],"nice":false},
"axis":{"title":"Dissolved Oxygen (mg/L)","values":[0,3,6,9,12,15,18],"ticks":false,
"labelFontSize":22,"labelFontWeight":"bold","labelColor":"black","labelFont":"Liberation Sans","labelPadding":21,
"titleFontSize":26,"titleFontWeight":"bold","titleColor":"black","titleFont":"Liberation Sans","titlePadding":38,
"grid":true,"gridColor":"black","gridWidth":2,"gridOpacity":1,"domainColor":"black","domainWidth":3}},
"detail":{"field":"s"}
}
},
{
"data":{"values":[{}]},
"mark":{"type":"rule","color":"black","strokeWidth":4,"strokeDash":[37,13],"strokeDashOffset":-4},
"encoding":{"y":{"datum":5}}
},
{
"data":{"values":[{}]},
"mark":{"type":"rect","fill":"white","stroke":"black","strokeWidth":1.5},
"encoding":{
"x":{"datum":{"year":2001,"month":7,"date":25,"hours":23},"type":"temporal"},
"x2":{"datum":{"year":2002,"month":1,"date":13,"hours":14}},
"y":{"datum":17.35},"y2":{"datum":15.675}}
},
{
"data":{"values":[{}]},
"mark":{"type":"text","text":"IPCB General Use DO Standard","fontSize":25,"font":"Liberation Sans","color":"black","align":"center","baseline":"alphabetic"},
"encoding":{"x":{"datum":{"year":2001,"month":10,"date":26,"hours":22},"type":"temporal"},"y":{"datum":16.85}}
},
{
"data":{"values":[{}]},
"mark":{"type":"text","text":"DO Shall Not be Less Than 5.0 mg/L","fontSize":25,"font":"Liberation Sans","color":"black","align":"center","baseline":"alphabetic"},
"encoding":{"x":{"datum":{"year":2001,"month":10,"date":20,"hours":14},"type":"temporal"},"y":{"datum":16.16}}
},
{
"data":{"values":[{}]},
"mark":{"type":"rule","color":"black","strokeWidth":1.5},
"encoding":{"x":{"datum":{"year":2001,"month":10,"date":12,"hours":12},"type":"temporal"},"y":{"datum":15.675},"y2":{"datum":5.4}}
},
{
"data":{"values":[{}]},
"mark":{"type":"point","shape":"M-1,-2L1,-2L0,0Z","size":324,"filled":true,"color":"black","opacity":1},
"encoding":{"x":{"datum":{"year":2001,"month":10,"date":12,"hours":12},"type":"temporal"},"y":{"datum":5.0}}
},
{
"data":{"name":"nd"},
"mark":{"type":"text","text":"ND","fontSize":9,"fontWeight":"bold","font":"Liberation Sans","color":"black","align":"center","baseline":"middle"},
"encoding":{"x":{"field":"t","type":"temporal"},"y":{"field":"v","type":"quantitative"}}
},
{
"data":{"values":[{}]},
"mark":{"type":"text","text":"ND = No Data","fontSize":15,"font":"Liberation Sans","color":"black","align":"center","baseline":"middle"},
"encoding":{"x":{"datum":{"year":2002,"month":11,"date":20,"hours":17},"type":"temporal"},"y":{"datum":16.78}}
}
]
}
